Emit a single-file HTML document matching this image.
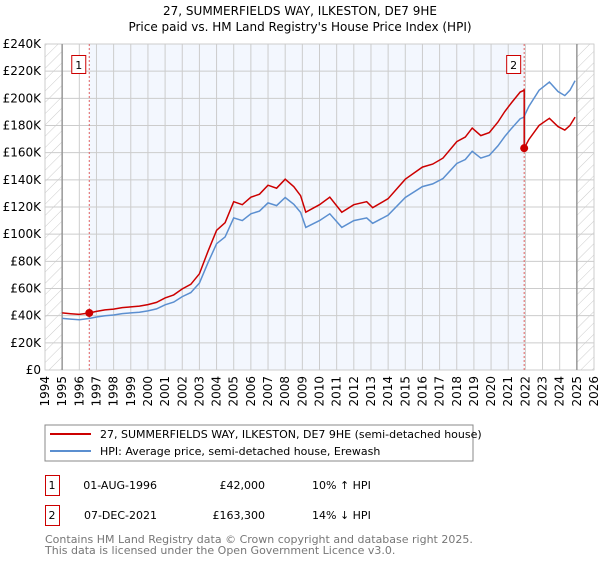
<!DOCTYPE html>
<html><head><meta charset="utf-8"><style>
body{margin:0;background:#fff;font-family:"DejaVu Sans","Liberation Sans",sans-serif;}
svg text{font-family:"DejaVu Sans","Liberation Sans",sans-serif;}
</style></head><body>
<svg id="c" width="600" height="560" xmlns="http://www.w3.org/2000/svg">
<defs><pattern id="hatch" width="8" height="8" patternUnits="userSpaceOnUse" patternTransform="rotate(45)"><line x1="0" y1="0" x2="0" y2="8" stroke="#ccc" stroke-width="1"/></pattern></defs>
<text x="300" y="15" text-anchor="middle" font-size="12">27, SUMMERFIELDS WAY, ILKESTON, DE7 9HE</text>
<text x="300" y="31" text-anchor="middle" font-size="12">Price paid vs. HM Land Registry's House Price Index (HPI)</text>
<g id="plot"></g>
<rect x="45" y="425" width="428" height="36" fill="#fff" stroke="#888"/>
<line x1="50" y1="434" x2="91" y2="434" stroke="#cc0000" stroke-width="2"/>
<text x="100" y="438" font-size="11">27, SUMMERFIELDS WAY, ILKESTON, DE7 9HE (semi-detached house)</text>
<line x1="50" y1="451" x2="91" y2="451" stroke="#5b8fd0" stroke-width="2"/>
<text x="100" y="455" font-size="11">HPI: Average price, semi-detached house, Erewash</text>
<g font-size="11">
<rect x="45.5" y="475.5" width="14" height="20" fill="#fff" stroke="#cc0000"/><text x="52" y="489" text-anchor="middle">1</text>
<text x="157" y="489" text-anchor="end">01-AUG-1996</text><text x="265" y="489" text-anchor="end">£42,000</text><text x="312" y="489">10% ↑ HPI</text>
<rect x="45.5" y="505.5" width="14" height="20" fill="#fff" stroke="#cc0000"/><text x="52" y="519" text-anchor="middle">2</text>
<text x="157" y="519" text-anchor="end">07-DEC-2021</text><text x="265" y="519" text-anchor="end">£163,300</text><text x="312" y="519">14% ↓ HPI</text>
</g>
<text x="45" y="543" font-size="11" fill="#777">Contains HM Land Registry data © Crown copyright and database right 2025.</text>
<text x="45" y="554" font-size="11" fill="#777">This data is licensed under the Open Government Licence v3.0.</text>
</svg>
<script>
const hpiYears=[1995,1995.5,1996,1996.6,1997,1997.5,1998,1998.5,1999,1999.5,2000,2000.5,2001,2001.5,2002,2002.5,2003,2003.5,2004,2004.5,2005,2005.5,2006,2006.5,2007,2007.5,2008,2008.5,2008.9,2009.2,2010,2010.6,2011.3,2012,2012.75,2013.1,2014,2015,2016,2016.6,2017.2,2018,2018.5,2018.9,2019.4,2019.9,2020.4,2020.8,2021.2,2021.7,2021.9,2022.2,2022.8,2023.4,2023.9,2024.3,2024.6,2024.9];
const hpiValues=[38,37.5,37,38,39,40,40.5,41.5,42,42.5,43.5,45,48,50,54,57,64,79,93,98,112,110,115,117,123,121,127,122,116,105,110,115,105,110,112,108,114,127,135,137,141,152,155,161,156,158,165,172,178,185,186,194,206,212,205,202,206,213];
const sales=[{t:1996.58,v:42.0,label:"1"},{t:2021.93,v:163.3,label:"2"}];
const yTicks=[0,20,40,60,80,100,120,140,160,180,200,220,240];
const xTicks=[1994,1995,1996,1997,1998,1999,2000,2001,2002,2003,2004,2005,2006,2007,2008,2009,2010,2011,2012,2013,2014,2015,2016,2017,2018,2019,2020,2021,2022,2023,2024,2025,2026];
const X0=45,X1=594,Y0=370,Y1=44;
const sx=t=>X0+(t-1994)/(2026-1994)*(X1-X0);
const sy=v=>Y0-v/240*(Y0-Y1);
const NS="http://www.w3.org/2000/svg";
const g=document.getElementById('plot');
function mk(tag,a){const e=document.createElementNS(NS,tag);for(const k in a)e.setAttribute(k,a[k]);g.appendChild(e);return e;}
let e;
e=mk('rect',{x:X0,y:Y1,width:X1-X0,height:Y0-Y1,fill:'#fff',stroke:'#ddd'});

e=mk('rect',{x:sx(sales[0].t),y:Y1,width:sx(sales[1].t)-sx(sales[0].t),height:Y0-Y1,fill:'#f3f7fe'});

e=mk('rect',{x:X0,y:Y1,width:sx(1995)-X0,height:Y0-Y1,fill:'url(#hatch)'});

e=mk('rect',{x:sx(2025),y:Y1,width:X1-sx(2025),height:Y0-Y1,fill:'url(#hatch)'});

xTicks.forEach(t=>{e=mk('line',{x1:sx(t),x2:sx(t),y1:Y1,y2:Y0,stroke:'#ccc'});

const lx=sx(t)+4,ly=Y0+6;
e=mk('text',{x:lx,y:ly,'text-anchor':'end','font-size':12,transform:'rotate(-90 '+lx+' '+ly+')'});e.textContent=t;
});
yTicks.forEach(v=>{e=mk('line',{x1:X0,x2:X1,y1:sy(v),y2:sy(v),stroke:'#ccc'});

e=mk('text',{x:X0-4,y:sy(v)+4,'text-anchor':'end','font-size':12});e.textContent='£'+v+(v?'K':'');
});
[1995,2025].forEach(t=>{e=mk('line',{x1:sx(t),x2:sx(t),y1:Y1,y2:Y0,stroke:'#999','stroke-width':1.5});
});
function hpiAt(t){for(let i=1;i<hpiYears.length;i++){if(t<=hpiYears[i]){const f=(t-hpiYears[i-1])/(hpiYears[i]-hpiYears[i-1]);return hpiValues[i-1]+f*(hpiValues[i]-hpiValues[i-1]);}}return hpiValues[hpiValues.length-1];}
const r1=sales[0].v/hpiAt(sales[0].t), r2=sales[1].v/hpiAt(sales[1].t);
let bp='',rp='';
hpiYears.forEach((t,i)=>{bp+=(i?'L':'M')+sx(t).toFixed(1)+','+sy(hpiValues[i]).toFixed(1);});
let first=true;
hpiYears.forEach((t,i)=>{if(t<sales[1].t){rp+=(first?'M':'L')+sx(t).toFixed(1)+','+sy(hpiValues[i]*r1).toFixed(1);first=false;}});
rp+='L'+sx(sales[1].t).toFixed(1)+','+sy(hpiAt(sales[1].t)*r1).toFixed(1)+'L'+sx(sales[1].t).toFixed(1)+','+sy(sales[1].v).toFixed(1);
hpiYears.forEach((t,i)=>{if(t>sales[1].t)rp+='L'+sx(t).toFixed(1)+','+sy(hpiValues[i]*r2).toFixed(1);});
sales.forEach(s=>{e=mk('line',{x1:sx(s.t),x2:sx(s.t),y1:Y1,y2:Y0,stroke:'#e06060','stroke-dasharray':'2,2'});
});
e=mk('path',{d:bp,fill:'none',stroke:'#5b8fd0','stroke-width':1.5});

e=mk('path',{d:rp,fill:'none',stroke:'#cc0000','stroke-width':1.5});

sales.forEach(s=>{e=mk('circle',{cx:sx(s.t),cy:sy(s.v),r:4,fill:'#cc0000'});

e=mk('rect',{x:sx(s.t)-17.5,y:55.5,width:14,height:18,fill:'#fff',stroke:'#cc0000'});

e=mk('text',{x:sx(s.t)-10.5,y:69,'text-anchor':'middle','font-size':11});e.textContent=s.label;
});
</script>
</body></html>
